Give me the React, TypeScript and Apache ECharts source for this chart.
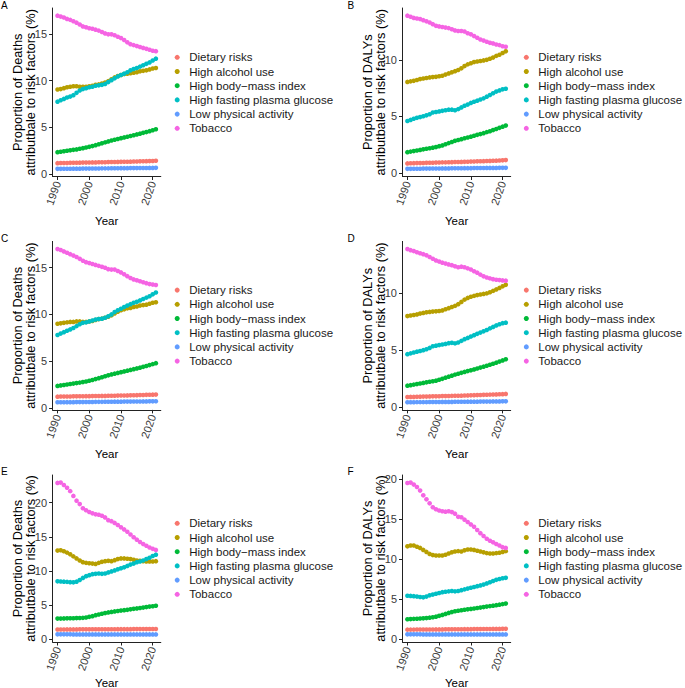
import React, { useEffect, useRef } from "react";
import * as echarts from "echarts";

const years = [1990,1991,1992,1993,1994,1995,1996,1997,1998,1999,2000,2001,2002,2003,2004,2005,2006,2007,2008,2009,2010,2011,2012,2013,2014,2015,2016,2017,2018,2019,2020,2021];
const xTicks = [1990, 2000, 2010, 2020];
const yTicks = [0, 5, 10, 15, 20];
const riskNames = ["Dietary risks","High alcohol use","High body\u2212mass index","High fasting plasma glucose","Low physical activity","Tobacco"];
const riskColors = ["#F8766D","#B79F00","#00BA38","#00BFC4","#619CFF","#F564E3"];

// Panel A (Deaths)
const A_diet = [1.18,1.19,1.2,1.2,1.21,1.22,1.22,1.23,1.24,1.24,1.25,1.26,1.26,1.27,1.28,1.28,1.29,1.3,1.3,1.31,1.32,1.33,1.33,1.34,1.35,1.36,1.37,1.38,1.39,1.4,1.41,1.43];
const A_alc = [9.05,9.1,9.2,9.3,9.35,9.4,9.4,9.35,9.35,9.35,9.4,9.45,9.55,9.6,9.7,9.8,9.95,10.15,10.35,10.5,10.6,10.7,10.75,10.8,10.85,10.9,11.0,11.05,11.1,11.2,11.3,11.35];
const A_bmi = [2.35,2.4,2.45,2.5,2.55,2.6,2.65,2.72,2.78,2.85,2.92,3.0,3.1,3.2,3.3,3.4,3.5,3.6,3.68,3.76,3.85,3.93,4.0,4.08,4.16,4.25,4.33,4.42,4.5,4.6,4.7,4.8];
const A_glu = [7.75,7.9,8.05,8.2,8.3,8.45,8.7,8.95,9.1,9.2,9.3,9.35,9.45,9.5,9.55,9.65,9.85,10.05,10.25,10.45,10.6,10.75,10.9,11.1,11.25,11.35,11.5,11.65,11.8,11.95,12.15,12.35];
const A_phys = [0.57,0.57,0.58,0.58,0.58,0.59,0.59,0.59,0.6,0.6,0.6,0.61,0.61,0.61,0.62,0.62,0.62,0.63,0.63,0.63,0.64,0.64,0.64,0.65,0.65,0.65,0.66,0.66,0.66,0.67,0.67,0.68];
const A_tob = [16.95,16.85,16.75,16.6,16.5,16.35,16.2,16.0,15.8,15.7,15.6,15.55,15.45,15.35,15.2,15.05,14.95,14.95,14.85,14.7,14.55,14.35,14.1,13.9,13.8,13.7,13.6,13.5,13.4,13.3,13.2,13.15];

// Panel B (DALYs)
const B_diet = [0.86,0.87,0.88,0.89,0.89,0.9,0.91,0.92,0.92,0.93,0.94,0.95,0.95,0.96,0.97,0.98,0.98,0.99,1.0,1.01,1.02,1.03,1.04,1.05,1.06,1.07,1.08,1.09,1.1,1.12,1.13,1.15];
const B_alc = [8.05,8.1,8.15,8.22,8.3,8.35,8.4,8.45,8.48,8.5,8.55,8.6,8.7,8.8,8.9,9.0,9.1,9.25,9.45,9.6,9.7,9.8,9.85,9.9,9.95,10.0,10.1,10.2,10.35,10.45,10.6,10.75];
const B_bmi = [1.85,1.9,1.95,2.0,2.05,2.1,2.15,2.2,2.25,2.3,2.38,2.45,2.55,2.65,2.75,2.85,2.93,3.0,3.08,3.15,3.22,3.3,3.38,3.45,3.53,3.62,3.7,3.8,3.9,4.0,4.1,4.2];
const B_glu = [4.6,4.7,4.8,4.88,4.95,5.02,5.1,5.2,5.35,5.4,5.45,5.5,5.55,5.6,5.6,5.55,5.65,5.8,5.95,6.05,6.2,6.3,6.4,6.5,6.6,6.75,6.9,7.05,7.2,7.3,7.4,7.45];
const B_phys = [0.38,0.38,0.39,0.39,0.39,0.4,0.4,0.4,0.41,0.41,0.41,0.42,0.42,0.42,0.43,0.43,0.43,0.43,0.44,0.44,0.44,0.45,0.45,0.45,0.45,0.46,0.46,0.46,0.46,0.47,0.47,0.47];
const B_tob = [13.9,13.8,13.7,13.65,13.6,13.5,13.4,13.3,13.15,13.0,12.95,12.9,12.85,12.8,12.7,12.6,12.55,12.55,12.5,12.35,12.25,12.1,11.95,11.8,11.7,11.6,11.5,11.45,11.35,11.3,11.2,11.15];

// Panel C (Deaths)
const C_diet = [1.2,1.21,1.21,1.22,1.22,1.23,1.23,1.24,1.24,1.25,1.25,1.26,1.27,1.27,1.28,1.28,1.29,1.3,1.3,1.31,1.32,1.32,1.33,1.34,1.35,1.36,1.37,1.38,1.39,1.4,1.41,1.42];
const C_alc = [9.0,9.05,9.1,9.15,9.2,9.2,9.25,9.25,9.2,9.2,9.25,9.3,9.4,9.5,9.55,9.65,9.75,9.9,10.1,10.3,10.45,10.55,10.65,10.7,10.8,10.85,10.95,11.0,11.05,11.15,11.25,11.3];
const C_bmi = [2.35,2.4,2.45,2.5,2.55,2.6,2.65,2.7,2.76,2.82,2.9,2.98,3.08,3.18,3.28,3.38,3.48,3.58,3.66,3.74,3.82,3.9,3.98,4.06,4.14,4.22,4.3,4.39,4.48,4.58,4.68,4.78];
const C_glu = [7.8,7.95,8.1,8.25,8.4,8.55,8.75,8.95,9.1,9.15,9.25,9.35,9.45,9.5,9.55,9.65,9.8,10.0,10.25,10.45,10.6,10.8,10.95,11.1,11.25,11.35,11.5,11.65,11.8,11.95,12.15,12.35];
const C_phys = [0.6,0.6,0.6,0.61,0.61,0.61,0.62,0.62,0.62,0.63,0.63,0.63,0.64,0.64,0.64,0.65,0.65,0.65,0.66,0.66,0.66,0.67,0.67,0.67,0.68,0.68,0.68,0.69,0.69,0.7,0.7,0.71];
const C_tob = [17.0,16.9,16.75,16.6,16.45,16.3,16.15,15.95,15.75,15.6,15.5,15.4,15.3,15.2,15.1,15.0,14.85,14.8,14.8,14.65,14.5,14.3,14.1,13.9,13.75,13.65,13.55,13.45,13.35,13.25,13.2,13.15];

// Panel D (DALYs)
const D_diet = [0.88,0.89,0.89,0.9,0.91,0.92,0.92,0.93,0.94,0.94,0.95,0.96,0.96,0.97,0.98,0.99,0.99,1.0,1.01,1.02,1.03,1.04,1.05,1.06,1.07,1.08,1.09,1.1,1.11,1.12,1.13,1.15];
const D_alc = [8.0,8.05,8.1,8.15,8.22,8.28,8.33,8.37,8.4,8.42,8.45,8.5,8.6,8.7,8.8,8.9,9.05,9.25,9.45,9.6,9.7,9.78,9.85,9.9,9.95,10.0,10.1,10.22,10.35,10.48,10.62,10.75];
const D_bmi = [1.88,1.92,1.97,2.02,2.07,2.12,2.17,2.22,2.27,2.32,2.4,2.48,2.58,2.67,2.76,2.85,2.93,3.01,3.09,3.16,3.23,3.31,3.39,3.47,3.55,3.63,3.72,3.81,3.9,4.0,4.1,4.2];
const D_glu = [4.65,4.72,4.8,4.87,4.93,5.0,5.08,5.2,5.35,5.4,5.45,5.5,5.55,5.62,5.65,5.6,5.68,5.82,5.97,6.08,6.2,6.32,6.44,6.55,6.66,6.78,6.92,7.05,7.18,7.28,7.38,7.42];
const D_phys = [0.42,0.42,0.42,0.43,0.43,0.43,0.43,0.44,0.44,0.44,0.44,0.45,0.45,0.45,0.45,0.46,0.46,0.46,0.46,0.47,0.47,0.47,0.47,0.48,0.48,0.48,0.48,0.49,0.49,0.49,0.5,0.5];
const D_tob = [13.9,13.8,13.72,13.62,13.53,13.45,13.35,13.2,13.05,12.9,12.8,12.7,12.62,12.55,12.48,12.38,12.3,12.35,12.3,12.2,12.1,11.95,11.82,11.65,11.5,11.4,11.32,11.25,11.2,11.17,11.14,11.12];

// Panel E (Deaths)
const E_diet = [1.45,1.45,1.45,1.46,1.46,1.46,1.46,1.47,1.47,1.47,1.47,1.48,1.48,1.48,1.48,1.49,1.49,1.49,1.49,1.5,1.5,1.5,1.5,1.5,1.51,1.51,1.51,1.51,1.51,1.52,1.52,1.52];
const E_alc = [13.0,13.05,12.9,12.7,12.45,12.15,11.85,11.55,11.3,11.2,11.15,11.1,11.05,11.2,11.35,11.45,11.5,11.45,11.6,11.75,11.85,11.85,11.8,11.75,11.65,11.55,11.5,11.45,11.4,11.4,11.4,11.45];
const E_bmi = [3.05,3.05,3.07,3.08,3.1,3.1,3.12,3.13,3.15,3.2,3.3,3.4,3.55,3.65,3.75,3.85,3.95,4.02,4.1,4.15,4.22,4.28,4.33,4.4,4.47,4.53,4.6,4.66,4.73,4.8,4.85,4.92];
const E_glu = [8.5,8.48,8.45,8.42,8.38,8.35,8.45,8.7,9.0,9.25,9.4,9.55,9.6,9.65,9.6,9.65,9.8,9.95,10.1,10.25,10.4,10.55,10.75,10.95,11.1,11.3,11.4,11.55,11.75,11.95,12.2,12.4];
const E_phys = [0.74,0.74,0.74,0.74,0.74,0.73,0.73,0.73,0.73,0.73,0.73,0.73,0.73,0.73,0.73,0.73,0.73,0.73,0.73,0.73,0.73,0.73,0.73,0.73,0.73,0.73,0.73,0.73,0.73,0.73,0.73,0.73];
const E_tob = [22.9,22.95,22.6,22.2,21.7,21.0,20.3,19.8,19.2,18.9,18.65,18.45,18.3,18.25,18.1,17.85,17.45,17.3,17.05,16.75,16.4,16.1,15.75,15.35,14.95,14.6,14.25,13.95,13.7,13.45,13.25,13.1];

// Panel F (DALYs)
const F_diet = [1.15,1.15,1.15,1.16,1.16,1.16,1.17,1.17,1.17,1.18,1.18,1.18,1.19,1.19,1.19,1.2,1.2,1.2,1.21,1.21,1.21,1.22,1.22,1.22,1.23,1.23,1.23,1.24,1.24,1.24,1.25,1.25];
const F_alc = [11.6,11.7,11.7,11.55,11.4,11.15,10.9,10.65,10.5,10.45,10.45,10.45,10.55,10.7,10.85,10.95,11.0,10.95,11.1,11.2,11.2,11.15,11.05,10.95,10.85,10.75,10.7,10.7,10.75,10.8,10.9,11.0];
const F_bmi = [2.45,2.47,2.5,2.52,2.55,2.57,2.6,2.65,2.7,2.78,2.88,3.0,3.12,3.25,3.35,3.45,3.52,3.58,3.64,3.7,3.75,3.8,3.86,3.92,3.98,4.04,4.1,4.16,4.22,4.28,4.35,4.42];
const F_glu = [5.4,5.38,5.35,5.3,5.25,5.2,5.3,5.45,5.55,5.65,5.75,5.85,5.9,5.95,6.0,5.95,6.0,6.1,6.2,6.3,6.4,6.5,6.6,6.7,6.8,6.95,7.1,7.25,7.4,7.5,7.6,7.65];
const F_phys = [0.56,0.56,0.56,0.56,0.56,0.55,0.55,0.55,0.55,0.55,0.55,0.55,0.55,0.55,0.55,0.55,0.55,0.55,0.55,0.55,0.55,0.55,0.55,0.55,0.55,0.55,0.55,0.55,0.55,0.55,0.55,0.55];
const F_tob = [19.55,19.6,19.35,19.05,18.6,18.0,17.5,17.0,16.5,16.25,16.1,16.0,15.95,16.0,15.9,15.7,15.3,15.25,14.95,14.65,14.35,14.05,13.65,13.25,12.9,12.55,12.3,12.1,11.9,11.7,11.5,11.4];

const deathsTitle = "Proportion of Deaths\nattributbale to risk factors (%)";
const dalysTitle = "Proportion of DALYs\nattributbale to risk factors (%)";

const FONT = "Liberation Sans, Arial, Helvetica, sans-serif";

const panels = [
  { letter: "A", title: deathsTitle, data: [A_diet, A_alc, A_bmi, A_glu, A_phys, A_tob], col: 0, row: 0 },
  { letter: "B", title: dalysTitle, data: [B_diet, B_alc, B_bmi, B_glu, B_phys, B_tob], col: 1, row: 0 },
  { letter: "C", title: deathsTitle, data: [C_diet, C_alc, C_bmi, C_glu, C_phys, C_tob], col: 0, row: 1 },
  { letter: "D", title: dalysTitle, data: [D_diet, D_alc, D_bmi, D_glu, D_phys, D_tob], col: 1, row: 1 },
  { letter: "E", title: deathsTitle, data: [E_diet, E_alc, E_bmi, E_glu, E_phys, E_tob], col: 0, row: 2 },
  { letter: "F", title: dalysTitle, data: [F_diet, F_alc, F_bmi, F_glu, F_phys, F_tob], col: 1, row: 2 },
];

const colLeft = [52.6, 402.5];
const rowTop = [8, 241.4, 475];
const rowHeight = [168.5, 168.5, 167];
const yearGap = [38.5, 38.5, 34.5];
const plotWidth = 108.2;
const legendLeft = [174.7, 523.8];
const legendTop = [50.2, 283, 516.2];
const letterX = [1, 347.5];
const letterY = [0, 233, 466];

export default function App() {
  const ref = useRef<HTMLDivElement>(null);
  useEffect(() => {
    if (!ref.current) return;
    const chart = echarts.init(ref.current, null, { renderer: "svg" });
    const axisLineStyle = { color: "#222", width: 1 };
    const grid = panels.map((p) => ({
      left: colLeft[p.col],
      top: rowTop[p.row],
      width: plotWidth,
      height: rowHeight[p.row],
      containLabel: false,
      outerBoundsMode: "none",
    }));
    const xAxis = panels.map((p, i) => ({
      type: "value",
      gridIndex: i,
      min: 1988.45,
      max: 2022.55,
      name: "Year",
      nameLocation: "middle",
      nameGap: yearGap[p.row],
      nameMoveOverlap: false,
      nameTextStyle: { fontSize: 11.5, color: "#000", fontFamily: FONT },
      axisLine: { show: true, onZero: false, lineStyle: axisLineStyle },
      axisTick: { show: true, length: 3.5, customValues: xTicks, lineStyle: axisLineStyle },
      axisLabel: {
        customValues: xTicks,
        rotate: 70,
        margin: 5,
        fontSize: 11,
        color: "#3a3a3a",
        fontFamily: FONT,
        formatter: (v: number) => String(v),
      },
      splitLine: { show: false },
    }));
    const yAxis = panels.map((p, i) => {
      const all = p.data.flat();
      const lo = Math.min(...all);
      const hi = Math.max(...all);
      const pad = (hi - lo) * 0.05;
      const ticks = yTicks.filter((t) => t <= hi + pad);
      return {
        type: "value",
        gridIndex: i,
        min: lo - pad,
        max: hi + pad,
        name: p.title,
        nameLocation: "middle",
        nameRotate: 90,
        nameGap: 15.5,
        nameMoveOverlap: false,
        nameTextStyle: { fontSize: 12.8, lineHeight: 12.8, color: "#000", fontFamily: FONT },
        axisLine: { show: true, onZero: false, lineStyle: axisLineStyle },
        axisTick: { show: true, length: 3.5, customValues: ticks, lineStyle: axisLineStyle },
        axisLabel: {
          customValues: ticks,
          margin: 5.5,
          fontSize: 11,
          color: "#3a3a3a",
          fontFamily: FONT,
          formatter: (v: number) => String(v),
        },
        splitLine: { show: false },
      };
    });
    const series: any[] = [];
    panels.forEach((p, i) => {
      p.data.forEach((arr, j) => {
        series.push({
          type: "scatter",
          name: riskNames[j],
          xAxisIndex: i,
          yAxisIndex: i,
          data: years.map((y, k) => [y, arr[k]]),
          symbol: "circle",
          symbolSize: 4.6,
          itemStyle: { color: riskColors[j], opacity: 1 },
          silent: true,
        });
      });
    });
    const legend = panels.map((p) => ({
      orient: "vertical",
      left: legendLeft[p.col],
      top: legendTop[p.row],
      padding: 0,
      icon: "circle",
      itemWidth: 14,
      itemHeight: 5,
      itemGap: 0,
      selectedMode: false,
      data: riskNames,
      textStyle: { fontSize: 11.5, lineHeight: 14.2, color: "#1a1a1a", fontFamily: FONT },
    }));
    const graphic = panels.map((p) => ({
      type: "text",
      left: letterX[p.col],
      top: letterY[p.row],
      style: { text: p.letter, fontSize: 10, fill: "#000", fontFamily: FONT },
    }));
    chart.setOption({
      animation: false,
      backgroundColor: "#fff",
      textStyle: { fontFamily: FONT },
      grid,
      xAxis,
      yAxis,
      series,
      legend,
      graphic,
    } as any);
    return () => chart.dispose();
  }, []);
  return (
    <div
      ref={ref}
      style={{ position: "fixed", left: 0, top: 0, width: 685, height: 688, background: "#fff" }}
    />
  );
}
